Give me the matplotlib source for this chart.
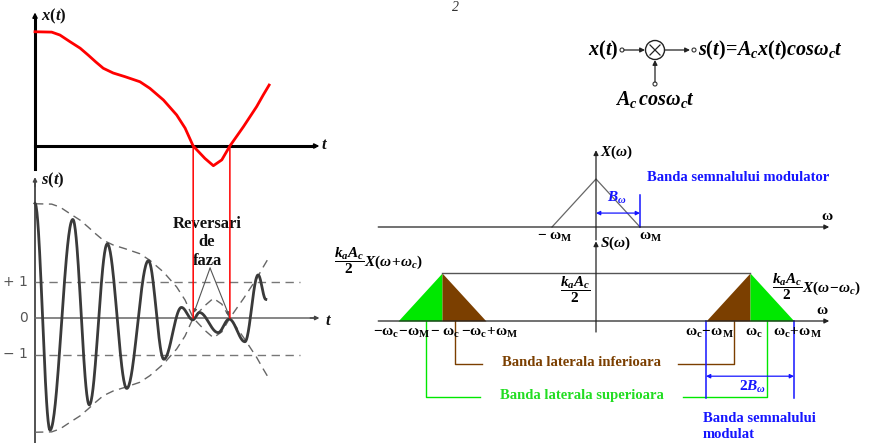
import numpy as np
import matplotlib
matplotlib.use('Agg')
import matplotlib.pyplot as plt
from matplotlib.patches import Circle, ConnectionPatch

plt.rcParams['font.family'] = ['Liberation Serif', 'DejaVu Serif']
plt.rcParams['mathtext.fontset'] = 'custom'
plt.rcParams['mathtext.rm'] = 'Liberation Serif:bold'
plt.rcParams['mathtext.it'] = 'Liberation Serif:italic:bold'
plt.rcParams['mathtext.bf'] = 'Liberation Serif:bold'

# message signal x(t), time in carrier periods
t_msg = np.array([0.0, 0.455, 0.68, 0.95, 1.23, 1.45, 1.66, 1.86, 2.13, 2.45, 2.86,
                  3.13, 3.50, 3.86, 4.09, 4.31, 4.63, 4.86, 5.09, 5.31, 5.68, 6.04,
                  6.22, 6.38])
x_msg = np.array([3.13, 3.12, 3.04, 2.86, 2.68, 2.49, 2.30, 2.13, 2.00, 1.90, 1.76,
                  1.58, 1.26, 0.85, 0.49, 0.0, -0.34, -0.54, -0.38, 0.0, 0.53, 1.08,
                  1.40, 1.67])

# peaks and troughs of the modulated signal s(t)
t_ext = np.array([0.0, 0.41, 1.03, 1.48, 1.97, 2.50, 3.09, 3.51, 3.99, 4.30, 4.48,
                  4.99, 5.29, 5.72, 6.08, 6.29])
s_ext = np.array([3.14, -3.07, 2.70, -2.38, 2.03, -1.93, 1.57, -1.13, 0.29, -0.05,
                  0.15, -0.40, -0.03, -0.65, 1.18, 0.51])

# zero crossings of x(t): phase reversals
t_rev = [4.31, 5.31]
levels = [1, 0, -1]
level_labels = ['+ 1', '0', '\u2212 1']

# spectrum, frequency in units of omega_M
w_M = 1.0
w_c = 3.5
tri_w = np.array([-w_M, 0.0, w_M])
tri_h = np.array([0.0, 1.0, 0.0])

GREEN = '#00e800'
GREEN_TXT = '#22dd22'
BROWN = '#7b3f00'
BLUE = '#1515ff'

W, H = 888, 443
fig = plt.figure(figsize=(W / 100, H / 100), dpi=100)


def box(x0, y0, x1, y1):
    ax = fig.add_axes([x0 / W, 1 - y1 / H, (x1 - x0) / W, (y1 - y0) / H])
    ax.set_axis_off()
    ax.patch.set_alpha(0)
    return ax


def arrow(ax, x0, y0, x1, y1, color='black', lw=1.0, ms=8, style='-|>'):
    ax.annotate('', xy=(x1, y1), xytext=(x0, y0), annotation_clip=False,
                arrowprops=dict(arrowstyle=style, color=color, lw=lw,
                                mutation_scale=ms, shrinkA=0, shrinkB=0))


# ---- x(t) ----
T_PX, A_PX = 36.7, 36.5
ax_x = box(0, 0, 330, 175)
ax_x.set_xlim(-35 / T_PX, 295 / T_PX)
ax_x.set_ylim(-29 / A_PX, 146 / A_PX)
ax_x.plot([0, 0], [-0.62, 3.5], color='black', lw=2.2, clip_on=False)
arrow(ax_x, 0, 3.4, 0, 3.66, 'black', 1.2, ms=7)
ax_x.plot([0, 7.6], [0, 0], color='black', lw=2.2, clip_on=False)
arrow(ax_x, 7.5, 0, 7.75, 0, 'black', 1.2, ms=7)
ax_x.plot(t_msg, x_msg, color='red', lw=2, solid_joinstyle='round', clip_on=False)
ax_x.text(0.17, 3.55, r'$x(t)$', fontsize=12, ha='left', va='center', color='#111')
ax_x.text(7.8, 0.02, r'$t$', fontsize=12, ha='left', va='center', color='#111')

# ---- s(t) ----
ax_s = box(0, 175, 330, 443)
ax_s.set_xlim(-35 / T_PX, 295 / T_PX)
ax_s.set_ylim(-125 / A_PX, 143 / A_PX)
ax_s.plot([0, 0], [-3.5, 3.75], color='#444', lw=1.3, clip_on=False)
arrow(ax_s, 0, 3.6, 0, 3.86, '#444', 1.0, ms=6)
ax_s.plot([0, 7.65], [0, 0], color='#666', lw=1.1, clip_on=False)
arrow(ax_s, 7.5, 0, 7.75, 0, '#444', 1.0, ms=6)
ax_s.hlines([1, -1], 0, 7.22, colors='#777', linestyles=(0, (6, 4)), lw=1)
ax_s.plot(t_msg, x_msg, color='#666', lw=1, ls=(0, (6, 4)))
ax_s.plot(t_msg, -x_msg, color='#666', lw=1, ls=(0, (6, 4)))

seg_t, seg_s = [], []
u = np.linspace(0, 1, 40)
for i in range(len(t_ext) - 1):
    seg_t.append(t_ext[i] + (t_ext[i + 1] - t_ext[i]) * u)
    seg_s.append((s_ext[i] + s_ext[i + 1]) / 2 + (s_ext[i] - s_ext[i + 1]) / 2 * np.cos(np.pi * u))
ax_s.plot(np.concatenate(seg_t), np.concatenate(seg_s), color='#3a3a3a', lw=2)

for lv, lab in zip(levels, level_labels):
    ax_s.text(-0.19, lv, lab, fontsize=10, ha='right', va='center', color='#555',
              family='DejaVu Sans')
ax_s.text(0.17, 3.78, r'$s(t)$', fontsize=12, ha='left', va='center', color='#111')
ax_s.text(7.9, -0.08, r'$t$', fontsize=12, ha='left', va='center', color='#111')

for tr in t_rev:
    con = ConnectionPatch(xyA=(tr, 0), coordsA=ax_x.transData, xyB=(tr, 0),
                          coordsB=ax_s.transData, color='red', lw=1.1)
    fig.add_artist(con)

ax_s.text(4.69, 2.07, 'Reversari\nde\nfaza', fontsize=12, weight='bold', ha='center',
          va='center', linespacing=1.2, color='#111')
arrow(ax_s, 4.77, 1.37, 4.33, 0.14, '#555', 0.8, ms=5)
arrow(ax_s, 4.77, 1.37, 5.29, 0.06, '#555', 0.8, ms=5)

# ---- block diagram ----
ax_b = box(560, 20, 888, 115)
ax_b.set_xlim(560, 888)
ax_b.set_ylim(115, 20)
ax_b.text(618, 50, r'$x(t)$', fontsize=14.5, ha='right', va='center')
ax_b.add_patch(Circle((622, 50), 2, fc='white', ec='#333', lw=0.8))
arrow(ax_b, 624, 50, 645, 50, '#222', 0.9, ms=7)
ax_b.add_patch(Circle((655, 50), 9.5, fc='white', ec='#222', lw=1))
ax_b.plot([650, 660], [45, 55], color='#222', lw=0.9)
ax_b.plot([650, 660], [55, 45], color='#222', lw=0.9)
arrow(ax_b, 665, 50, 690, 50, '#222', 0.9, ms=7)
ax_b.add_patch(Circle((694, 50), 2, fc='white', ec='#333', lw=0.8))
ax_b.text(698, 50, r'$s(t)\!=\!A_c x(t) cos\omega_c t$', fontsize=14.5, ha='left', va='center')
ax_b.add_patch(Circle((655, 84), 2, fc='white', ec='#333', lw=0.8))
arrow(ax_b, 655, 82, 655, 60, '#222', 0.9, ms=7)
ax_b.text(615, 100, r'$A_c\,cos\omega_c t$', fontsize=14.5, ha='left', va='center')

# ---- spectrum of x(t) ----
W_PX, H_PX = 44.0, 48.0
ax_X = box(330, 140, 888, 240)
ax_X.set_xlim(-266 / W_PX, 292 / W_PX)
ax_X.set_ylim(-13 / H_PX, 87 / H_PX)
arrow(ax_X, -4.95, 0, 5.3, 0, '#222', 0.9, ms=7)
arrow(ax_X, 0, -0.27, 0, 1.6, '#222', 0.9, ms=7)
ax_X.plot(tri_w, tri_h, color='#666', lw=0.9)
ax_X.plot([w_M, w_M], [0, 0.67], color=BLUE, lw=1.1)
arrow(ax_X, 0, 0.29, w_M, 0.29, BLUE, 0.9, ms=6, style='<|-|>')
ax_X.text(0.48, 0.6, r'$B_\omega$', fontsize=11, color=BLUE, ha='center', va='center')
ax_X.text(0.09, 1.56, r'$X(\omega)$', fontsize=11, ha='left', va='center')
ax_X.text(1.16, 1.04, 'Banda semnalului modulator', fontsize=10.5, weight='bold',
          color=BLUE, ha='left', va='center')
ax_X.text(5.25, 0.22, r'$\mathrm{\omega}$', fontsize=11, ha='center', va='center')
ax_X.text(-0.93, -0.22, r'$\mathrm{-\ \omega_M}$', fontsize=11, ha='center', va='center')
ax_X.text(1.23, -0.22, r'$\mathrm{\omega_M}$', fontsize=11, ha='center', va='center')

# ---- spectrum of s(t) ----
ax_S = box(330, 240, 888, 443)
ax_S.set_xlim(-266 / W_PX, 292 / W_PX)
ax_S.set_ylim(-122 / H_PX, 81 / H_PX)
ax_S.fill_between(tri_w[:2] - w_c, tri_h[:2], color=GREEN, lw=0)
ax_S.fill_between(tri_w[1:] - w_c, tri_h[1:], color=BROWN, lw=0)
ax_S.fill_between(tri_w[:2] + w_c, tri_h[:2], color=BROWN, lw=0)
ax_S.fill_between(tri_w[1:] + w_c, tri_h[1:], color=GREEN, lw=0)
ax_S.plot([-w_c, w_c], [1, 1], color='#555', lw=1)
arrow(ax_S, -4.95, 0, 5.3, 0, '#222', 0.9, ms=7)
arrow(ax_S, 0, -0.23, 0, 1.66, '#222', 0.9, ms=7)
ax_S.text(0.09, 1.62, r'$S(\omega)$', fontsize=11, ha='left', va='center')
ax_S.text(5.14, 0.22, r'$\mathrm{\omega}$', fontsize=11, ha='center', va='center')
ax_S.text(-5.95, 1.25, r'$\dfrac{k_a A_c}{2}X(\omega\!+\!\omega_c)$', fontsize=11,
          ha='left', va='center')
ax_S.text(-0.48, 0.66, r'$\dfrac{k_a A_c}{2}$', fontsize=11, ha='center', va='center')
ax_S.text(4.0, 0.72, r'$\dfrac{k_a A_c}{2}X(\omega\!-\!\omega_c)$', fontsize=11,
          ha='left', va='center')

freq_labels = [(-w_c - w_M, r'$\mathrm{-\omega_c\!-\!\omega_M}$'),
               (-w_c, r'$\mathrm{-\ \omega_c}$'),
               (-w_c + w_M, r'$\mathrm{-\omega_c\!+\!\omega_M}$'),
               (w_c - w_M, r'$\mathrm{\omega_c\!-\!\omega_M}$'),
               (w_c, r'$\mathrm{\omega_c}$'),
               (w_c + w_M, r'$\mathrm{\omega_c\!+\!\omega_M}$')]
for wx, lab in freq_labels:
    ax_S.text(wx + 0.08, -0.25, lab, fontsize=11, ha='center', va='center')

# sideband leaders
ax_S.plot([-3.2, -3.2, -2.59], [0, -0.9, -0.9], color=BROWN, lw=1, clip_on=False)
ax_S.plot([1.86, 3.14, 3.14], [-0.9, -0.9, 0], color=BROWN, lw=1, clip_on=False)
ax_S.text(-2.14, -0.86, 'Banda laterala inferioara', fontsize=10.5, weight='bold',
          color=BROWN, ha='left', va='center')
ax_S.plot([-3.86, -3.86, -2.64], [0, -1.58, -1.58], color=GREEN, lw=1, clip_on=False)
ax_S.plot([1.98, 3.89, 3.89], [-1.58, -1.58, 0], color=GREEN, lw=1, clip_on=False)
ax_S.text(-2.18, -1.56, 'Banda laterala superioara', fontsize=10.5, weight='bold',
          color=GREEN_TXT, ha='left', va='center')

# modulated bandwidth
for wx in (w_c - w_M, w_c + w_M):
    ax_S.plot([wx, wx], [0, -1.6], color=BLUE, lw=1.1, clip_on=False)
arrow(ax_S, w_c - w_M, -1.15, w_c + w_M, -1.15, BLUE, 0.9, ms=6, style='<|-|>')
ax_S.text(w_c + 0.05, -1.37, r'$2B_\omega$', fontsize=11, color=BLUE, ha='center', va='center')
ax_S.text(2.43, -2.2, 'Banda semnalului\nmodulat', fontsize=10.5, weight='bold',
          color=BLUE, ha='left', va='center', linespacing=1.25)

fig.text(455 / W, 1 - 1 / H, '2', fontsize=10, ha='center', va='top', color='#333',
         style='italic')

fig.savefig('out.png', dpi=100)
